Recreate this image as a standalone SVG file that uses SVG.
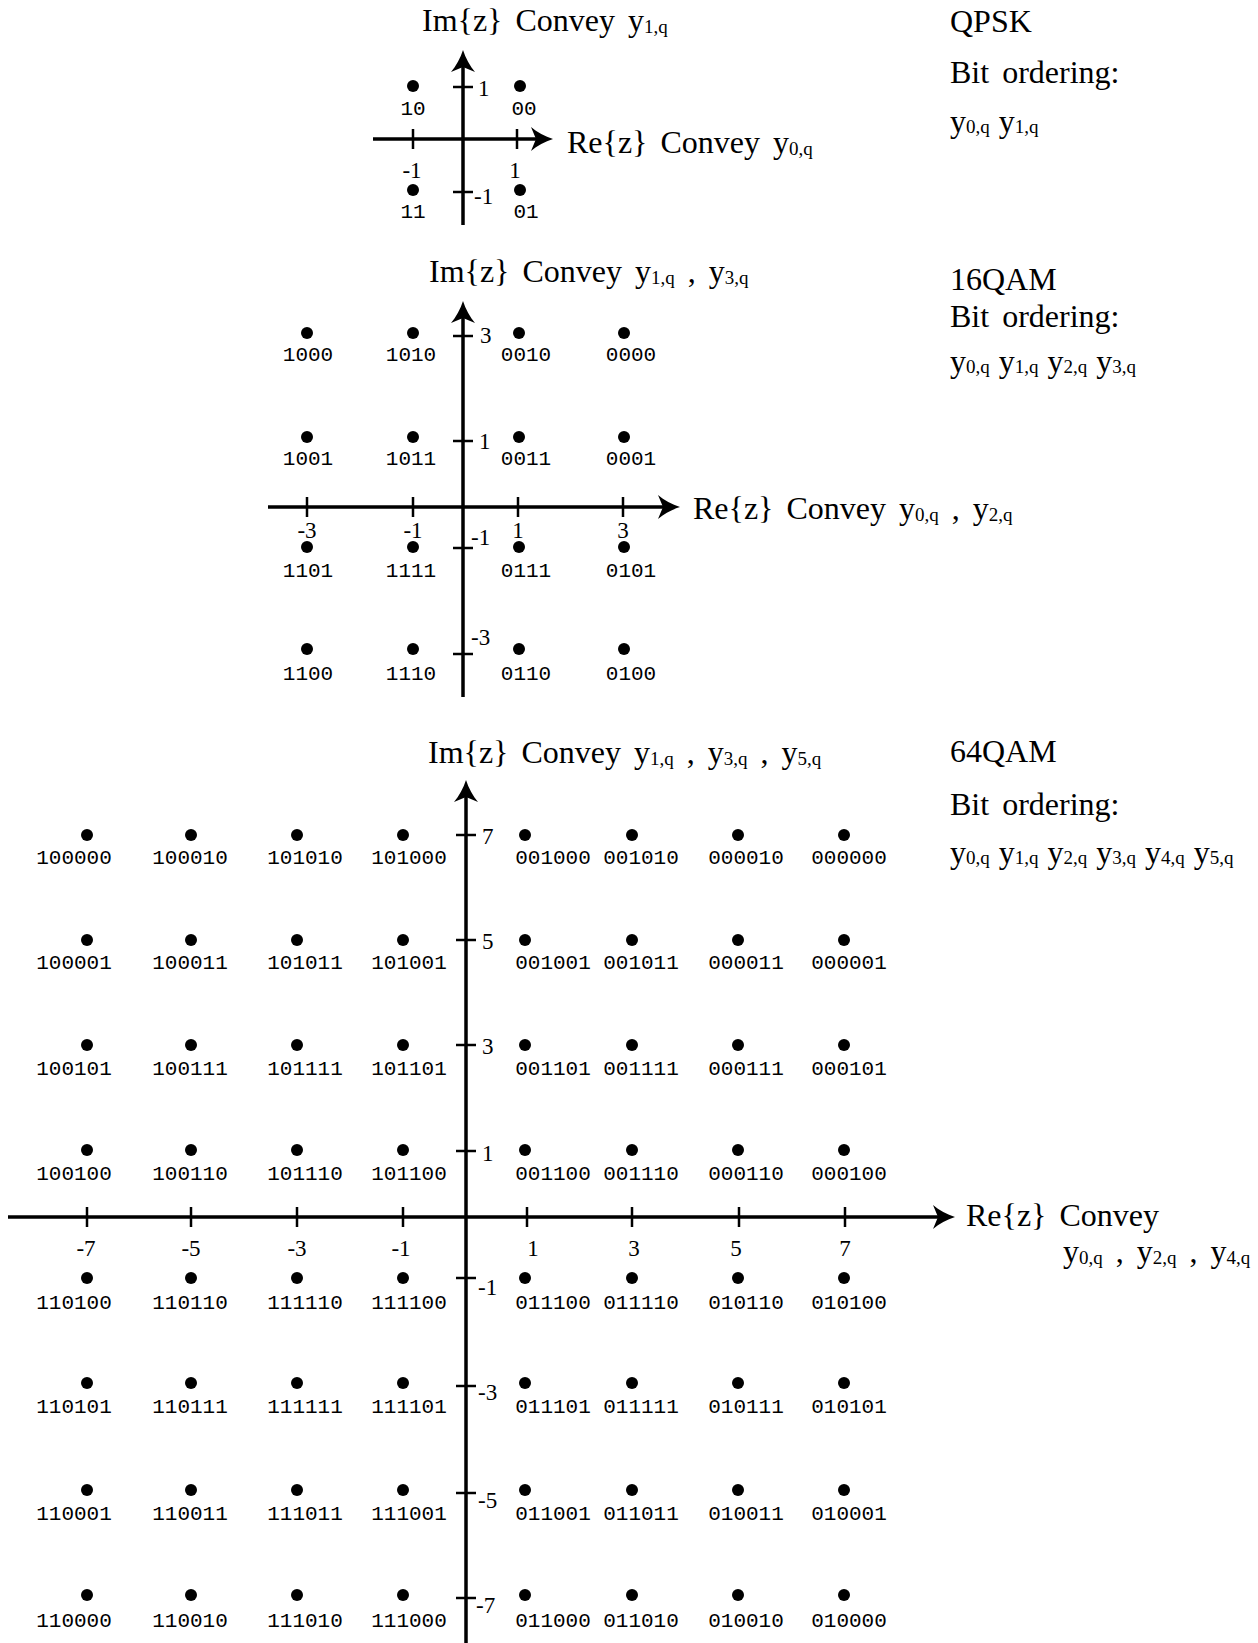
<svg xmlns="http://www.w3.org/2000/svg" width="1258" height="1643" viewBox="0 0 1258 1643">
<style>
.ax{stroke:#000;stroke-width:3.5;fill:none}
.tk{stroke:#000;stroke-width:2.5}
.pt circle{fill:#000}
.pt text{font-family:"Liberation Mono",monospace;font-size:21px;text-anchor:middle;fill:#000}
.num{font-family:"Liberation Serif",serif;font-size:23px;fill:#000}
.nc{text-anchor:middle}
.ttl{font-family:"Liberation Serif",serif;font-size:32px;fill:#000;word-spacing:5px}
.bo{word-spacing:1px}
.sub{font-size:19px}
</style>
<defs>
<marker id="arr" markerUnits="userSpaceOnUse" markerWidth="24" markerHeight="26" refX="14" refY="12" orient="auto" overflow="visible">
<path d="M22,12 C14,9.5 6,5 0,0 L5,12 L0,24 C6,19 14,14.5 22,12 Z" fill="#000"/>
</marker>
</defs>
<rect width="1258" height="1643" fill="#fff"/>

<!-- ===== QPSK ===== -->
<g id="qpsk-axes">
<line class="ax" x1="373" y1="139" x2="545" y2="139" marker-end="url(#arr)"/>
<line class="ax" x1="463" y1="225" x2="463" y2="58" marker-end="url(#arr)"/>
<line class="tk" x1="413" y1="129" x2="413" y2="149"/>
<line class="tk" x1="517" y1="129" x2="517" y2="149"/>
<line class="tk" x1="453" y1="87" x2="473" y2="87"/>
<line class="tk" x1="453" y1="192" x2="473" y2="192"/>
<text class="num nc" x="412" y="178">-1</text>
<text class="num nc" x="515" y="178">1</text>
<text class="num" x="478" y="96">1</text>
<text class="num" x="474" y="204">-1</text>
</g>
<text class="ttl" x="422" y="31">Im{z} Convey y<tspan class="sub" dy="2">1,q</tspan></text>
<text class="ttl" x="567" y="153">Re{z} Convey y<tspan class="sub" dy="2">0,q</tspan></text>
<text class="ttl" x="950" y="32">QPSK</text>
<text class="ttl" x="950" y="83">Bit ordering:</text>
<text class="ttl bo" x="950" y="132">y<tspan class="sub" dy="1">0,q</tspan><tspan dy="-1"> y</tspan><tspan class="sub" dy="1">1,q</tspan></text>
<g class="pt" id="qpsk-10"><circle cx="413" cy="86" r="6"/><text x="413" y="115">10</text></g>
<g class="pt" id="qpsk-00"><circle cx="520" cy="86" r="6"/><text x="524" y="115">00</text></g>
<g class="pt" id="qpsk-11"><circle cx="413" cy="190" r="6"/><text x="413" y="218">11</text></g>
<g class="pt" id="qpsk-01"><circle cx="520" cy="190" r="6"/><text x="526" y="218">01</text></g>

<!-- ===== 16QAM ===== -->
<g id="qam16-axes">
<line class="ax" x1="268" y1="507" x2="672" y2="507" marker-end="url(#arr)"/>
<line class="ax" x1="463" y1="697" x2="463" y2="309" marker-end="url(#arr)"/>
<line class="tk" x1="307" y1="497" x2="307" y2="517"/>
<line class="tk" x1="413" y1="497" x2="413" y2="517"/>
<line class="tk" x1="518" y1="497" x2="518" y2="517"/>
<line class="tk" x1="623" y1="497" x2="623" y2="517"/>
<line class="tk" x1="453" y1="336" x2="473" y2="336"/>
<line class="tk" x1="453" y1="441" x2="473" y2="441"/>
<line class="tk" x1="453" y1="548" x2="473" y2="548"/>
<line class="tk" x1="453" y1="654" x2="473" y2="654"/>
<text class="num nc" x="307" y="538">-3</text>
<text class="num nc" x="413" y="538">-1</text>
<text class="num nc" x="518" y="538">1</text>
<text class="num nc" x="623" y="538">3</text>
<text class="num" x="480" y="343">3</text>
<text class="num" x="479" y="449">1</text>
<text class="num" x="471" y="545">-1</text>
<text class="num" x="471" y="645">-3</text>
</g>
<text class="ttl" x="429" y="282">Im{z} Convey y<tspan class="sub" dy="2">1,q</tspan><tspan dy="-2"> , y</tspan><tspan class="sub" dy="2">3,q</tspan></text>
<text class="ttl" x="693" y="519">Re{z} Convey y<tspan class="sub" dy="2">0,q</tspan><tspan dy="-2"> , y</tspan><tspan class="sub" dy="2">2,q</tspan></text>
<text class="ttl" x="950" y="290">16QAM</text>
<text class="ttl" x="950" y="327">Bit ordering:</text>
<text class="ttl bo" x="950" y="372">y<tspan class="sub" dy="1">0,q</tspan><tspan dy="-1"> y</tspan><tspan class="sub" dy="1">1,q</tspan><tspan dy="-1"> y</tspan><tspan class="sub" dy="1">2,q</tspan><tspan dy="-1"> y</tspan><tspan class="sub" dy="1">3,q</tspan></text>

<g class="pt" id="qam16-1000"><circle cx="307" cy="333" r="6"/><text x="308" y="361">1000</text></g>
<g class="pt" id="qam16-1010"><circle cx="413" cy="333" r="6"/><text x="411" y="361">1010</text></g>
<g class="pt" id="qam16-0010"><circle cx="519" cy="333" r="6"/><text x="526" y="361">0010</text></g>
<g class="pt" id="qam16-0000"><circle cx="624" cy="333" r="6"/><text x="631" y="361">0000</text></g>
<g class="pt" id="qam16-1001"><circle cx="307" cy="437" r="6"/><text x="308" y="465">1001</text></g>
<g class="pt" id="qam16-1011"><circle cx="413" cy="437" r="6"/><text x="411" y="465">1011</text></g>
<g class="pt" id="qam16-0011"><circle cx="519" cy="437" r="6"/><text x="526" y="465">0011</text></g>
<g class="pt" id="qam16-0001"><circle cx="624" cy="437" r="6"/><text x="631" y="465">0001</text></g>
<g class="pt" id="qam16-1101"><circle cx="307" cy="547" r="6"/><text x="308" y="577">1101</text></g>
<g class="pt" id="qam16-1111"><circle cx="413" cy="547" r="6"/><text x="411" y="577">1111</text></g>
<g class="pt" id="qam16-0111"><circle cx="519" cy="547" r="6"/><text x="526" y="577">0111</text></g>
<g class="pt" id="qam16-0101"><circle cx="624" cy="547" r="6"/><text x="631" y="577">0101</text></g>
<g class="pt" id="qam16-1100"><circle cx="307" cy="649" r="6"/><text x="308" y="680">1100</text></g>
<g class="pt" id="qam16-1110"><circle cx="413" cy="649" r="6"/><text x="411" y="680">1110</text></g>
<g class="pt" id="qam16-0110"><circle cx="519" cy="649" r="6"/><text x="526" y="680">0110</text></g>
<g class="pt" id="qam16-0100"><circle cx="624" cy="649" r="6"/><text x="631" y="680">0100</text></g>

<!-- ===== 64QAM ===== -->
<g id="qam64-axes">
<line class="ax" x1="8" y1="1217" x2="947" y2="1217" marker-end="url(#arr)"/>
<line class="ax" x1="466" y1="1643" x2="466" y2="788" marker-end="url(#arr)"/>
<line class="tk" x1="87" y1="1207" x2="87" y2="1227"/>
<line class="tk" x1="191" y1="1207" x2="191" y2="1227"/>
<line class="tk" x1="297" y1="1207" x2="297" y2="1227"/>
<line class="tk" x1="403" y1="1207" x2="403" y2="1227"/>
<line class="tk" x1="527" y1="1207" x2="527" y2="1227"/>
<line class="tk" x1="632" y1="1207" x2="632" y2="1227"/>
<line class="tk" x1="739" y1="1207" x2="739" y2="1227"/>
<line class="tk" x1="845" y1="1207" x2="845" y2="1227"/>
<line class="tk" x1="456" y1="835" x2="476" y2="835"/>
<line class="tk" x1="456" y1="940" x2="476" y2="940"/>
<line class="tk" x1="456" y1="1045" x2="476" y2="1045"/>
<line class="tk" x1="456" y1="1151" x2="476" y2="1151"/>
<line class="tk" x1="456" y1="1278" x2="476" y2="1278"/>
<line class="tk" x1="456" y1="1386" x2="476" y2="1386"/>
<line class="tk" x1="456" y1="1493" x2="476" y2="1493"/>
<line class="tk" x1="456" y1="1598" x2="476" y2="1598"/>
<text class="num nc" x="86" y="1256">-7</text>
<text class="num nc" x="191" y="1256">-5</text>
<text class="num nc" x="297" y="1256">-3</text>
<text class="num nc" x="401" y="1256">-1</text>
<text class="num nc" x="533" y="1256">1</text>
<text class="num nc" x="634" y="1256">3</text>
<text class="num nc" x="736" y="1256">5</text>
<text class="num nc" x="845" y="1256">7</text>
<text class="num" x="482" y="844">7</text>
<text class="num" x="482" y="949">5</text>
<text class="num" x="482" y="1054">3</text>
<text class="num" x="482" y="1161">1</text>
<text class="num" x="478" y="1295">-1</text>
<text class="num" x="478" y="1400">-3</text>
<text class="num" x="478" y="1508">-5</text>
<text class="num" x="476" y="1613">-7</text>
</g>
<text class="ttl" x="428" y="763">Im{z} Convey y<tspan class="sub" dy="2">1,q</tspan><tspan dy="-2"> , y</tspan><tspan class="sub" dy="2">3,q</tspan><tspan dy="-2"> , y</tspan><tspan class="sub" dy="2">5,q</tspan></text>
<text class="ttl" x="966" y="1226">Re{z} Convey</text>
<text class="ttl" x="1063" y="1262">y<tspan class="sub" dy="2">0,q</tspan><tspan dy="-2"> , y</tspan><tspan class="sub" dy="2">2,q</tspan><tspan dy="-2"> , y</tspan><tspan class="sub" dy="2">4,q</tspan></text>
<text class="ttl" x="950" y="762">64QAM</text>
<text class="ttl" x="950" y="815">Bit ordering:</text>
<text class="ttl bo" x="950" y="863">y<tspan class="sub" dy="1">0,q</tspan><tspan dy="-1"> y</tspan><tspan class="sub" dy="1">1,q</tspan><tspan dy="-1"> y</tspan><tspan class="sub" dy="1">2,q</tspan><tspan dy="-1"> y</tspan><tspan class="sub" dy="1">3,q</tspan><tspan dy="-1"> y</tspan><tspan class="sub" dy="1">4,q</tspan><tspan dy="-1"> y</tspan><tspan class="sub" dy="1">5,q</tspan></text>

<!-- row 7 -->
<g class="pt" id="qam64-100000"><circle cx="87" cy="835" r="6"/><text x="74" y="864">100000</text></g>
<g class="pt" id="qam64-100010"><circle cx="191" cy="835" r="6"/><text x="190" y="864">100010</text></g>
<g class="pt" id="qam64-101010"><circle cx="297" cy="835" r="6"/><text x="305" y="864">101010</text></g>
<g class="pt" id="qam64-101000"><circle cx="403" cy="835" r="6"/><text x="409" y="864">101000</text></g>
<g class="pt" id="qam64-001000"><circle cx="525" cy="835" r="6"/><text x="553" y="864">001000</text></g>
<g class="pt" id="qam64-001010"><circle cx="632" cy="835" r="6"/><text x="641" y="864">001010</text></g>
<g class="pt" id="qam64-000010"><circle cx="738" cy="835" r="6"/><text x="746" y="864">000010</text></g>
<g class="pt" id="qam64-000000"><circle cx="844" cy="835" r="6"/><text x="849" y="864">000000</text></g>
<!-- row 5 -->
<g class="pt" id="qam64-100001"><circle cx="87" cy="940" r="6"/><text x="74" y="969">100001</text></g>
<g class="pt" id="qam64-100011"><circle cx="191" cy="940" r="6"/><text x="190" y="969">100011</text></g>
<g class="pt" id="qam64-101011"><circle cx="297" cy="940" r="6"/><text x="305" y="969">101011</text></g>
<g class="pt" id="qam64-101001"><circle cx="403" cy="940" r="6"/><text x="409" y="969">101001</text></g>
<g class="pt" id="qam64-001001"><circle cx="525" cy="940" r="6"/><text x="553" y="969">001001</text></g>
<g class="pt" id="qam64-001011"><circle cx="632" cy="940" r="6"/><text x="641" y="969">001011</text></g>
<g class="pt" id="qam64-000011"><circle cx="738" cy="940" r="6"/><text x="746" y="969">000011</text></g>
<g class="pt" id="qam64-000001"><circle cx="844" cy="940" r="6"/><text x="849" y="969">000001</text></g>
<!-- row 3 -->
<g class="pt" id="qam64-100101"><circle cx="87" cy="1045" r="6"/><text x="74" y="1075">100101</text></g>
<g class="pt" id="qam64-100111"><circle cx="191" cy="1045" r="6"/><text x="190" y="1075">100111</text></g>
<g class="pt" id="qam64-101111"><circle cx="297" cy="1045" r="6"/><text x="305" y="1075">101111</text></g>
<g class="pt" id="qam64-101101"><circle cx="403" cy="1045" r="6"/><text x="409" y="1075">101101</text></g>
<g class="pt" id="qam64-001101"><circle cx="525" cy="1045" r="6"/><text x="553" y="1075">001101</text></g>
<g class="pt" id="qam64-001111"><circle cx="632" cy="1045" r="6"/><text x="641" y="1075">001111</text></g>
<g class="pt" id="qam64-000111"><circle cx="738" cy="1045" r="6"/><text x="746" y="1075">000111</text></g>
<g class="pt" id="qam64-000101"><circle cx="844" cy="1045" r="6"/><text x="849" y="1075">000101</text></g>
<!-- row 1 -->
<g class="pt" id="qam64-100100"><circle cx="87" cy="1150" r="6"/><text x="74" y="1180">100100</text></g>
<g class="pt" id="qam64-100110"><circle cx="191" cy="1150" r="6"/><text x="190" y="1180">100110</text></g>
<g class="pt" id="qam64-101110"><circle cx="297" cy="1150" r="6"/><text x="305" y="1180">101110</text></g>
<g class="pt" id="qam64-101100"><circle cx="403" cy="1150" r="6"/><text x="409" y="1180">101100</text></g>
<g class="pt" id="qam64-001100"><circle cx="525" cy="1150" r="6"/><text x="553" y="1180">001100</text></g>
<g class="pt" id="qam64-001110"><circle cx="632" cy="1150" r="6"/><text x="641" y="1180">001110</text></g>
<g class="pt" id="qam64-000110"><circle cx="738" cy="1150" r="6"/><text x="746" y="1180">000110</text></g>
<g class="pt" id="qam64-000100"><circle cx="844" cy="1150" r="6"/><text x="849" y="1180">000100</text></g>
<!-- row -1 -->
<g class="pt" id="qam64-110100"><circle cx="87" cy="1278" r="6"/><text x="74" y="1309">110100</text></g>
<g class="pt" id="qam64-110110"><circle cx="191" cy="1278" r="6"/><text x="190" y="1309">110110</text></g>
<g class="pt" id="qam64-111110"><circle cx="297" cy="1278" r="6"/><text x="305" y="1309">111110</text></g>
<g class="pt" id="qam64-111100"><circle cx="403" cy="1278" r="6"/><text x="409" y="1309">111100</text></g>
<g class="pt" id="qam64-011100"><circle cx="525" cy="1278" r="6"/><text x="553" y="1309">011100</text></g>
<g class="pt" id="qam64-011110"><circle cx="632" cy="1278" r="6"/><text x="641" y="1309">011110</text></g>
<g class="pt" id="qam64-010110"><circle cx="738" cy="1278" r="6"/><text x="746" y="1309">010110</text></g>
<g class="pt" id="qam64-010100"><circle cx="844" cy="1278" r="6"/><text x="849" y="1309">010100</text></g>
<!-- row -3 -->
<g class="pt" id="qam64-110101"><circle cx="87" cy="1383" r="6"/><text x="74" y="1413">110101</text></g>
<g class="pt" id="qam64-110111"><circle cx="191" cy="1383" r="6"/><text x="190" y="1413">110111</text></g>
<g class="pt" id="qam64-111111"><circle cx="297" cy="1383" r="6"/><text x="305" y="1413">111111</text></g>
<g class="pt" id="qam64-111101"><circle cx="403" cy="1383" r="6"/><text x="409" y="1413">111101</text></g>
<g class="pt" id="qam64-011101"><circle cx="525" cy="1383" r="6"/><text x="553" y="1413">011101</text></g>
<g class="pt" id="qam64-011111"><circle cx="632" cy="1383" r="6"/><text x="641" y="1413">011111</text></g>
<g class="pt" id="qam64-010111"><circle cx="738" cy="1383" r="6"/><text x="746" y="1413">010111</text></g>
<g class="pt" id="qam64-010101"><circle cx="844" cy="1383" r="6"/><text x="849" y="1413">010101</text></g>
<!-- row -5 -->
<g class="pt" id="qam64-110001"><circle cx="87" cy="1490" r="6"/><text x="74" y="1520">110001</text></g>
<g class="pt" id="qam64-110011"><circle cx="191" cy="1490" r="6"/><text x="190" y="1520">110011</text></g>
<g class="pt" id="qam64-111011"><circle cx="297" cy="1490" r="6"/><text x="305" y="1520">111011</text></g>
<g class="pt" id="qam64-111001"><circle cx="403" cy="1490" r="6"/><text x="409" y="1520">111001</text></g>
<g class="pt" id="qam64-011001"><circle cx="525" cy="1490" r="6"/><text x="553" y="1520">011001</text></g>
<g class="pt" id="qam64-011011"><circle cx="632" cy="1490" r="6"/><text x="641" y="1520">011011</text></g>
<g class="pt" id="qam64-010011"><circle cx="738" cy="1490" r="6"/><text x="746" y="1520">010011</text></g>
<g class="pt" id="qam64-010001"><circle cx="844" cy="1490" r="6"/><text x="849" y="1520">010001</text></g>
<!-- row -7 -->
<g class="pt" id="qam64-110000"><circle cx="87" cy="1595" r="6"/><text x="74" y="1627">110000</text></g>
<g class="pt" id="qam64-110010"><circle cx="191" cy="1595" r="6"/><text x="190" y="1627">110010</text></g>
<g class="pt" id="qam64-111010"><circle cx="297" cy="1595" r="6"/><text x="305" y="1627">111010</text></g>
<g class="pt" id="qam64-111000"><circle cx="403" cy="1595" r="6"/><text x="409" y="1627">111000</text></g>
<g class="pt" id="qam64-011000"><circle cx="525" cy="1595" r="6"/><text x="553" y="1627">011000</text></g>
<g class="pt" id="qam64-011010"><circle cx="632" cy="1595" r="6"/><text x="641" y="1627">011010</text></g>
<g class="pt" id="qam64-010010"><circle cx="738" cy="1595" r="6"/><text x="746" y="1627">010010</text></g>
<g class="pt" id="qam64-010000"><circle cx="844" cy="1595" r="6"/><text x="849" y="1627">010000</text></g>
</svg>
